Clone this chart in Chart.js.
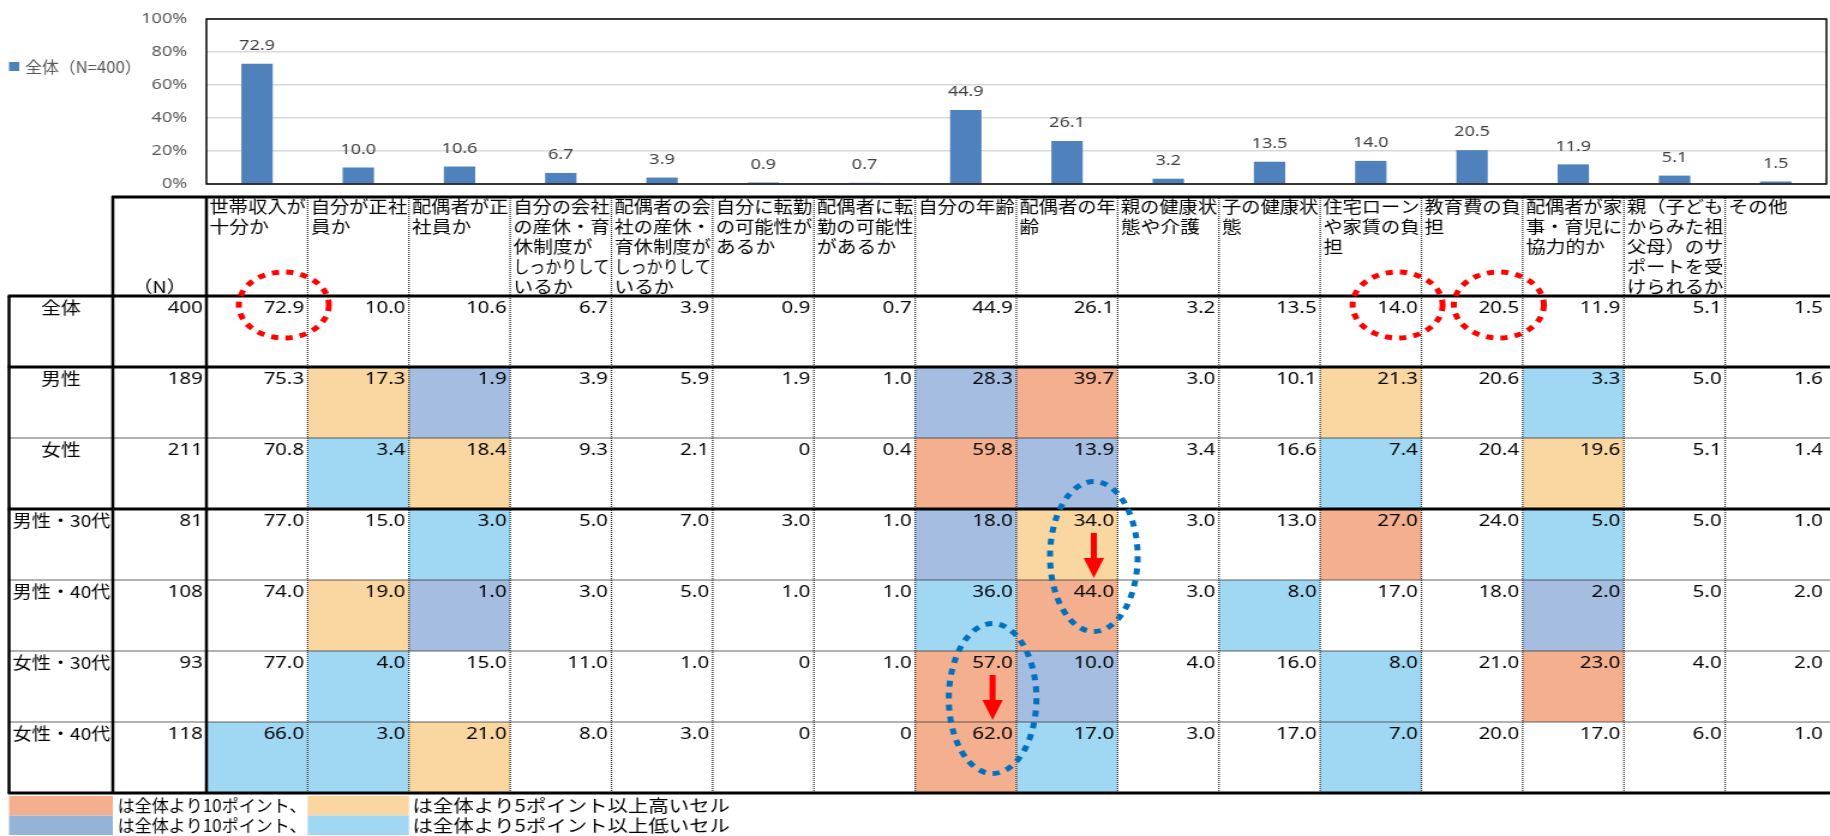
<!DOCTYPE html>
<html lang="ja">
<head>
<meta charset="utf-8">
<script src="https://cdn.jsdelivr.net/npm/chart.js@4.4.1/dist/chart.umd.min.js"></script>
<style>
  html, body { margin: 0; padding: 0; background: #fff; overflow: hidden; }
  #wrap { position: relative; width: 1830px; height: 836px; overflow: hidden; }
  canvas { position: absolute; left: 0; }
</style>
</head>
<body>
<div id="wrap">
  <!-- both canvases are drawn narrow and stretched sideways, like the original sheet -->
  <canvas id="bars" width="1525" height="215" style="top:-6px;width:1830px;height:215px"></canvas>
  <canvas id="table" width="1525" height="646" style="top:190px;width:1830px;height:646px"></canvas>
</div>
<script>
const categories = [
  ['世帯収入が', '十分か'],
  ['自分が正社', '員か'],
  ['配偶者が正', '社員か'],
  ['自分の会社', 'の産休・育', '休制度が', 'しっかりして', 'いるか'],
  ['配偶者の会', '社の産休・', '育休制度が', 'しっかりして', 'いるか'],
  ['自分に転勤', 'の可能性が', 'あるか'],
  ['配偶者に転', '勤の可能性', 'があるか'],
  ['自分の年齢'],
  ['配偶者の年', '齢'],
  ['親の健康状', '態や介護'],
  ['子の健康状', '態'],
  ['住宅ローン', 'や家賃の負', '担'],
  ['教育費の負', '担'],
  ['配偶者が家', '事・育児に', '協力的か'],
  ['親（子ども', 'からみた祖', '父母）のサ', 'ポートを受', 'けられるか'],
  ['その他']
];

const totalValues = [72.9, 10.0, 10.6, 6.7, 3.9, 0.9, 0.7, 44.9, 26.1, 3.2, 13.5, 14.0, 20.5, 11.9, 5.1, 1.5];

const rowLabels = ['全体', '男性', '女性', '男性・30代', '男性・40代', '女性・30代', '女性・40代'];
const rowN = [400, 189, 211, 81, 108, 93, 118];

const maleValues     = [75.3, 17.3, 1.9, 3.9, 5.9, 1.9, 1.0, 28.3, 39.7, 3.0, 10.1, 21.3, 20.6, 3.3, 5.0, 1.6];
const femaleValues   = [70.8, 3.4, 18.4, 9.3, 2.1, 0, 0.4, 59.8, 13.9, 3.4, 16.6, 7.4, 20.4, 19.6, 5.1, 1.4];
const male30Values   = [77.0, 15.0, 3.0, 5.0, 7.0, 3.0, 1.0, 18.0, 34.0, 3.0, 13.0, 27.0, 24.0, 5.0, 5.0, 1.0];
const male40Values   = [74.0, 19.0, 1.0, 3.0, 5.0, 1.0, 1.0, 36.0, 44.0, 3.0, 8.0, 17.0, 18.0, 2.0, 5.0, 2.0];
const female30Values = [77.0, 4.0, 15.0, 11.0, 1.0, 0, 1.0, 57.0, 10.0, 4.0, 16.0, 8.0, 21.0, 23.0, 4.0, 2.0];
const female40Values = [66.0, 3.0, 21.0, 8.0, 3.0, 0, 0, 62.0, 17.0, 3.0, 17.0, 7.0, 20.0, 17.0, 6.0, 1.0];
const rowValues = [totalValues, maleValues, femaleValues, male30Values, male40Values, female30Values, female40Values];

// shading: 2 = 10pt higher, 1 = 5pt higher, -1 = 5pt lower, -2 = 10pt lower
const cellLevels = [
  [0, 0, 0, 0, 0, 0, 0, 0, 0, 0, 0, 0, 0, 0, 0, 0],
  [0, 1, -2, 0, 0, 0, 0, -2, 2, 0, 0, 1, 0, -1, 0, 0],
  [0, -1, 1, 0, 0, 0, 0, 2, -2, 0, 0, -1, 0, 1, 0, 0],
  [0, 0, -1, 0, 0, 0, 0, -2, 1, 0, 0, 2, 0, -1, 0, 0],
  [0, 1, -2, 0, 0, 0, 0, -1, 2, 0, -1, 0, 0, -2, 0, 0],
  [0, -1, 0, 0, 0, 0, 0, 2, -2, 0, 0, -1, 0, 2, 0, 0],
  [-1, -1, 1, 0, 0, 0, 0, 2, -1, 0, 0, -1, 0, 0, 0, 0]
];

const circledTotals = [0, 11, 12];                          // columns ringed in the 全体 row
const shiftPairs = [{ col: 8, row: 3 }, { col: 7, row: 5 }]; // 30代 -> 40代 jumps

const levelColors = { '2': '#F4B08E', '1': '#FAD6A0', '-1': '#A0D8F4', '-2': '#A4BDE1' };
const legendLines = [
  ['は全体より10ポイント、', 'は全体より5ポイント以上高いセル', '#F4B08E', '#FAD6A0'],
  ['は全体より10ポイント、', 'は全体より5ポイント以上低いセル', '#95B3D7', '#A0D8F4']
];

const JP = '"Noto Sans CJK JP", "Noto Sans", sans-serif';
const NUM = '"Noto Sans", sans-serif';
const fmt = v => v === 0 ? '0' : v.toFixed(1);

const barDecor = {
  id: 'barDecor',
  afterDatasetsDraw(chart) {
    const { ctx, chartArea: a } = chart;
    ctx.save();
    ctx.strokeStyle = '#000';
    ctx.lineWidth = 1.5;
    ctx.strokeRect(a.left, a.top, a.right - a.left, a.bottom - a.top);

    ctx.fillStyle = '#404040';
    ctx.font = '15px ' + NUM;
    ctx.textAlign = 'center';
    ctx.textBaseline = 'middle';
    chart.getDatasetMeta(0).data.forEach((bar, i) => {
      ctx.fillText(fmt(totalValues[i]), bar.x, bar.y - 18);
    });

    // series key on the left
    ctx.fillStyle = '#4F81BD';
    ctx.fillRect(7.5, 68, 8.5, 9);
    ctx.fillStyle = '#595959';
    ctx.font = '16px ' + JP;
    ctx.textAlign = 'left';
    ctx.fillText(chart.data.datasets[0].label, 21, 73, 97);
    ctx.restore();
  }
};

new Chart(document.getElementById('bars'), {
  type: 'bar',
  data: {
    labels: categories,
    datasets: [{
      label: '全体（N=400）',
      data: totalValues,
      backgroundColor: '#4F81BD',
      barPercentage: 0.31,
      categoryPercentage: 1
    }]
  },
  options: {
    responsive: false,
    animation: false,
    devicePixelRatio: 1,
    layout: { padding: { top: 16, right: 3, bottom: 16, left: 0 } },
    plugins: { legend: { display: false }, tooltip: { enabled: false } },
    scales: {
      x: { display: false },
      y: {
        min: 0,
        max: 100,
        afterFit: s => { s.width = 172; },
        border: { display: false },
        grid: { color: '#D9D9D9', lineWidth: 1.5, drawTicks: false },
        ticks: {
          stepSize: 20,
          padding: 16,
          color: '#595959',
          font: { family: NUM, size: 15 },
          callback: v => v + '%'
        }
      }
    }
  },
  plugins: [barDecor]
});

// ---- cross table ----
const HEADER_H = 100;
const N_COL_W = 78;
const TABLE_LEFT = 7.5;

function hLine(ctx, x0, x1, y, thick) {
  ctx.save();
  if (thick) { ctx.strokeStyle = '#000'; ctx.lineWidth = 2.8; }
  else { ctx.strokeStyle = '#333'; ctx.lineWidth = 1.5; ctx.setLineDash([1, 1]); }
  ctx.beginPath(); ctx.moveTo(x0, y); ctx.lineTo(x1, y); ctx.stroke();
  ctx.restore();
}
function vLine(ctx, x, y0, y1, thick) {
  ctx.save();
  if (thick) { ctx.strokeStyle = '#000'; ctx.lineWidth = 2.5; }
  else { ctx.strokeStyle = '#333'; ctx.lineWidth = 1.3; ctx.setLineDash([1, 1]); }
  ctx.beginPath(); ctx.moveTo(x, y0); ctx.lineTo(x, y1); ctx.stroke();
  ctx.restore();
}
function dottedOval(ctx, cx, cy, rx, ry, color) {
  ctx.save();
  ctx.strokeStyle = color;
  ctx.lineWidth = 5;
  ctx.setLineDash([6, 6]);
  ctx.beginPath();
  ctx.ellipse(cx, cy, rx, ry, 0, 0, Math.PI * 2);
  ctx.stroke();
  ctx.restore();
}
function downArrow(ctx, x, y0, y1) {
  ctx.save();
  ctx.fillStyle = '#FF0000';
  ctx.fillRect(x - 2.5, y0, 5, y1 - y0 - 19);
  ctx.beginPath();
  ctx.moveTo(x - 8.5, y1 - 20);
  ctx.lineTo(x + 8.5, y1 - 20);
  ctx.lineTo(x, y1);
  ctx.closePath();
  ctx.fill();
  ctx.restore();
}

const tableDraw = {
  id: 'tableDraw',
  afterDraw(chart) {
    const { ctx } = chart;
    const xs = chart.scales.x, ys = chart.scales.y;
    const colW = xs.width / categories.length;
    const rowH = ys.height / rowLabels.length;
    const colLeft = c => xs.getPixelForValue(c) - colW / 2;
    const rowTop = r => ys.getPixelForValue(r) - rowH / 2;
    const headTop = ys.top - HEADER_H;
    const nLeft = xs.left - N_COL_W;
    const right = chart.width;
    const textY = r => rowTop(r) + 12;

    ctx.save();
    // shaded cells
    cellLevels.forEach((row, r) => row.forEach((lv, c) => {
      if (!lv) return;
      ctx.fillStyle = levelColors[lv];
      ctx.fillRect(colLeft(c), rowTop(r), colW, rowH);
    }));

    // dotted inner lines
    for (let c = 1; c < categories.length; c++) vLine(ctx, colLeft(c), headTop, ys.bottom, false);
    [2, 4, 5, 6].forEach(r => hLine(ctx, TABLE_LEFT, right, rowTop(r), false));
    // heavy frame
    hLine(ctx, nLeft - 1, right, headTop + 1, true);
    hLine(ctx, TABLE_LEFT - 1, right, ys.top, true);
    [1, 3].forEach(r => hLine(ctx, TABLE_LEFT - 1, right, rowTop(r), true));
    hLine(ctx, TABLE_LEFT - 1, right, ys.bottom, true);
    vLine(ctx, TABLE_LEFT, ys.top, ys.bottom, true);
    vLine(ctx, nLeft, headTop, ys.bottom, true);
    vLine(ctx, xs.left, headTop, ys.bottom, true);

    // column headings
    ctx.fillStyle = '#000';
    ctx.textBaseline = 'middle';
    ctx.textAlign = 'left';
    ctx.font = '16.5px ' + JP;
    categories.forEach((lines, c) => {
      lines.forEach((t, k) => ctx.fillText(t, colLeft(c) + 2.5, headTop + 11 + 20 * k, colW - 4));
    });
    ctx.textAlign = 'center';
    ctx.fillText('（N）', nLeft + N_COL_W / 2, ys.top - 9);

    // row labels
    rowLabels.forEach((lab, r) => {
      if (lab.length <= 2) {
        ctx.textAlign = 'center';
        ctx.fillText(lab, (TABLE_LEFT + nLeft) / 2, textY(r));
      } else {
        ctx.textAlign = 'left';
        ctx.fillText(lab, TABLE_LEFT + 3, textY(r), nLeft - TABLE_LEFT - 5);
      }
    });

    // numbers
    ctx.textAlign = 'right';
    ctx.font = '17px ' + NUM;
    rowN.forEach((n, r) => ctx.fillText(String(n), xs.left - 3, textY(r)));
    rowValues.forEach((vals, r) => vals.forEach((v, c) => {
      ctx.fillText(fmt(v), colLeft(c) + colW - 3, textY(r));
    }));

    // call-outs
    const textCenter = (r, c) => colLeft(c) + colW - 3 - ctx.measureText(fmt(rowValues[r][c])).width / 2;
    circledTotals.forEach(c => dottedOval(ctx, textCenter(0, c), textY(0) - 3, 37.5, 33, '#FF0000'));
    shiftPairs.forEach(p => {
      const cx = textCenter(p.row, p.col);
      dottedOval(ctx, cx, (textY(p.row) + textY(p.row + 1)) / 2, 36.5, 75, '#0070C0');
      downArrow(ctx, cx, textY(p.row) + 12, rowTop(p.row + 1) - 2);
    });

    // shading key under the table
    ctx.font = '17px ' + JP;
    ctx.textAlign = 'left';
    legendLines.forEach((ln, k) => {
      const top = ys.bottom + 3 + 19.5 * k;
      ctx.fillStyle = ln[2];
      ctx.fillRect(TABLE_LEFT, top, nLeft - TABLE_LEFT, 19.5);
      ctx.fillStyle = ln[3];
      ctx.fillRect(colLeft(1), top, colW, 19.5);
      ctx.fillStyle = '#000';
      ctx.fillText(ln[0], nLeft + 4, top + 10, colLeft(1) - nLeft - 5);
      ctx.fillText(ln[1], colLeft(2) + 3, top + 10);
    });
    ctx.restore();
  }
};

new Chart(document.getElementById('table'), {
  type: 'bar',
  data: { labels: categories, datasets: [] },
  options: {
    responsive: false,
    animation: false,
    devicePixelRatio: 1,
    layout: { padding: { top: 106, right: 3, bottom: 43, left: 172 } },
    plugins: { legend: { display: false }, tooltip: { enabled: false } },
    scales: {
      x: { type: 'category', display: false, offset: true },
      y: { type: 'category', labels: rowLabels, display: false, offset: true }
    }
  },
  plugins: [tableDraw]
});
</script>
</body>
</html>
